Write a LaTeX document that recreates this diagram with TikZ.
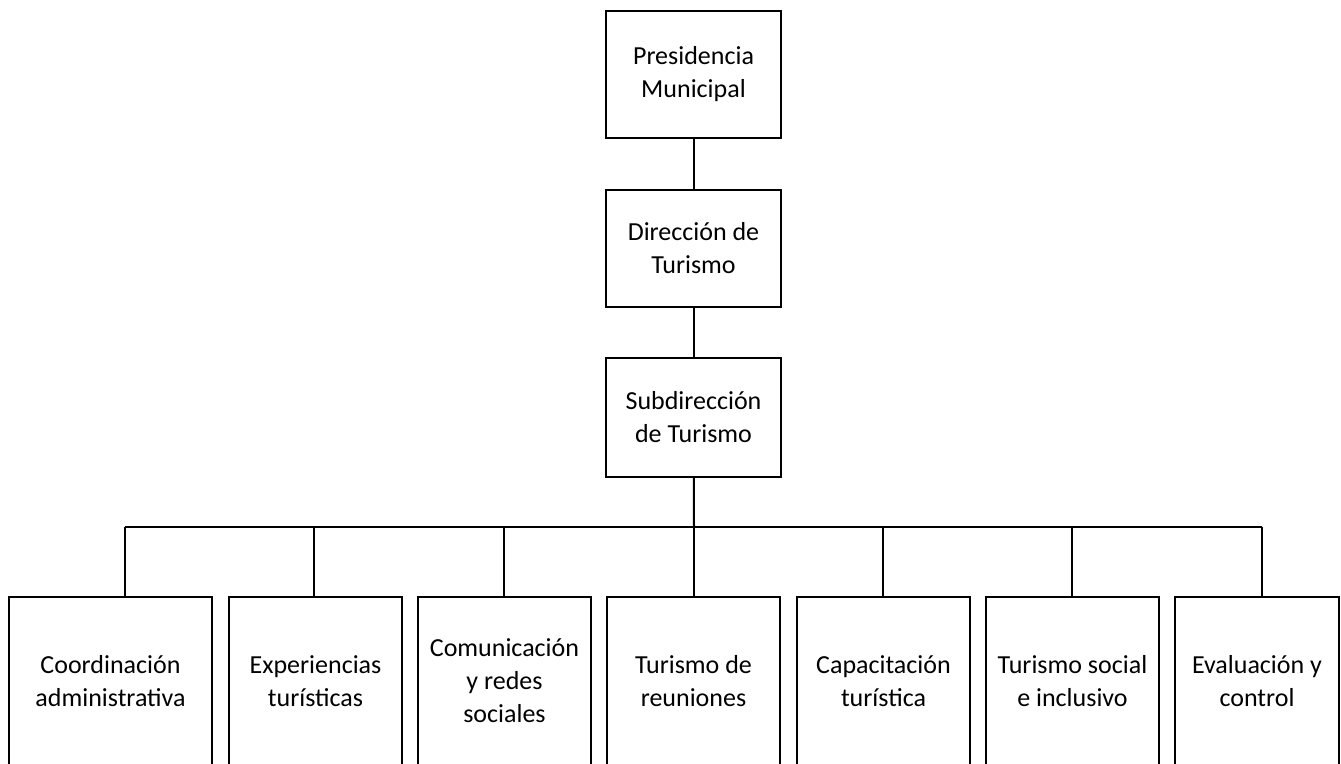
\documentclass[tikz,border=0pt]{standalone}
\usepackage{fontspec}
\setmainfont{Carlito}
\tikzset{
  unit/.style={draw, line width=2pt, align=center, inner sep=2pt,
    font=\fontsize{26}{33}\selectfont},
  topbox/.style={unit, minimum width=175pt},
  leafbox/.style={unit, minimum height=168pt},
  link/.style={line width=2pt}
}
\begin{document}
\begin{tikzpicture}[x=1pt,y=-1pt]
  \useasboundingbox (0,0) rectangle (1341,763);
  % cadena superior
  \node[topbox, minimum height=127pt] (pres) at (693.5,74.5) {Presidencia\\Municipal};
  \node[topbox, minimum height=117pt] (dir) at (693.5,248.5) {Dirección de\\Turismo};
  \node[topbox, minimum height=119pt] (sub) at (693.5,417.5) {Subdirección\\de Turismo};
  \draw[link] (pres) -- (dir);
  \draw[link] (dir) -- (sub);
  % areas
  \node[leafbox, minimum width=203pt] (coord) at (110.5,681) {Coordinación\\administrativa};
  \node[leafbox, minimum width=173pt] (exp) at (315.5,681) {Experiencias\\turísticas};
  \node[leafbox, minimum width=173pt] (com) at (504.5,681) {Comunicación\\y redes\\sociales};
  \node[leafbox, minimum width=173pt] (reun) at (693.5,681) {Turismo de\\reuniones};
  \node[leafbox, minimum width=173pt] (cap) at (883.5,681) {Capacitación\\turística};
  \node[leafbox, minimum width=173pt] (soc) at (1072.5,681) {Turismo social\\e inclusivo};
  \node[leafbox, minimum width=164pt] (eval) at (1257,681) {Evaluación y\\control};
  % barra de distribucion
  \coordinate (bus) at (694,527);
  \draw[link] (sub) -- (bus);
  \foreach \name/\x in {coord/125, exp/314, com/504, reun/694, cap/883, soc/1072, eval/1262}
    \draw[link] (\x,527) -- (\x,527 |- \name.north);
  \draw[link] (125,527) -- (1262,527);
\end{tikzpicture}
\end{document}
